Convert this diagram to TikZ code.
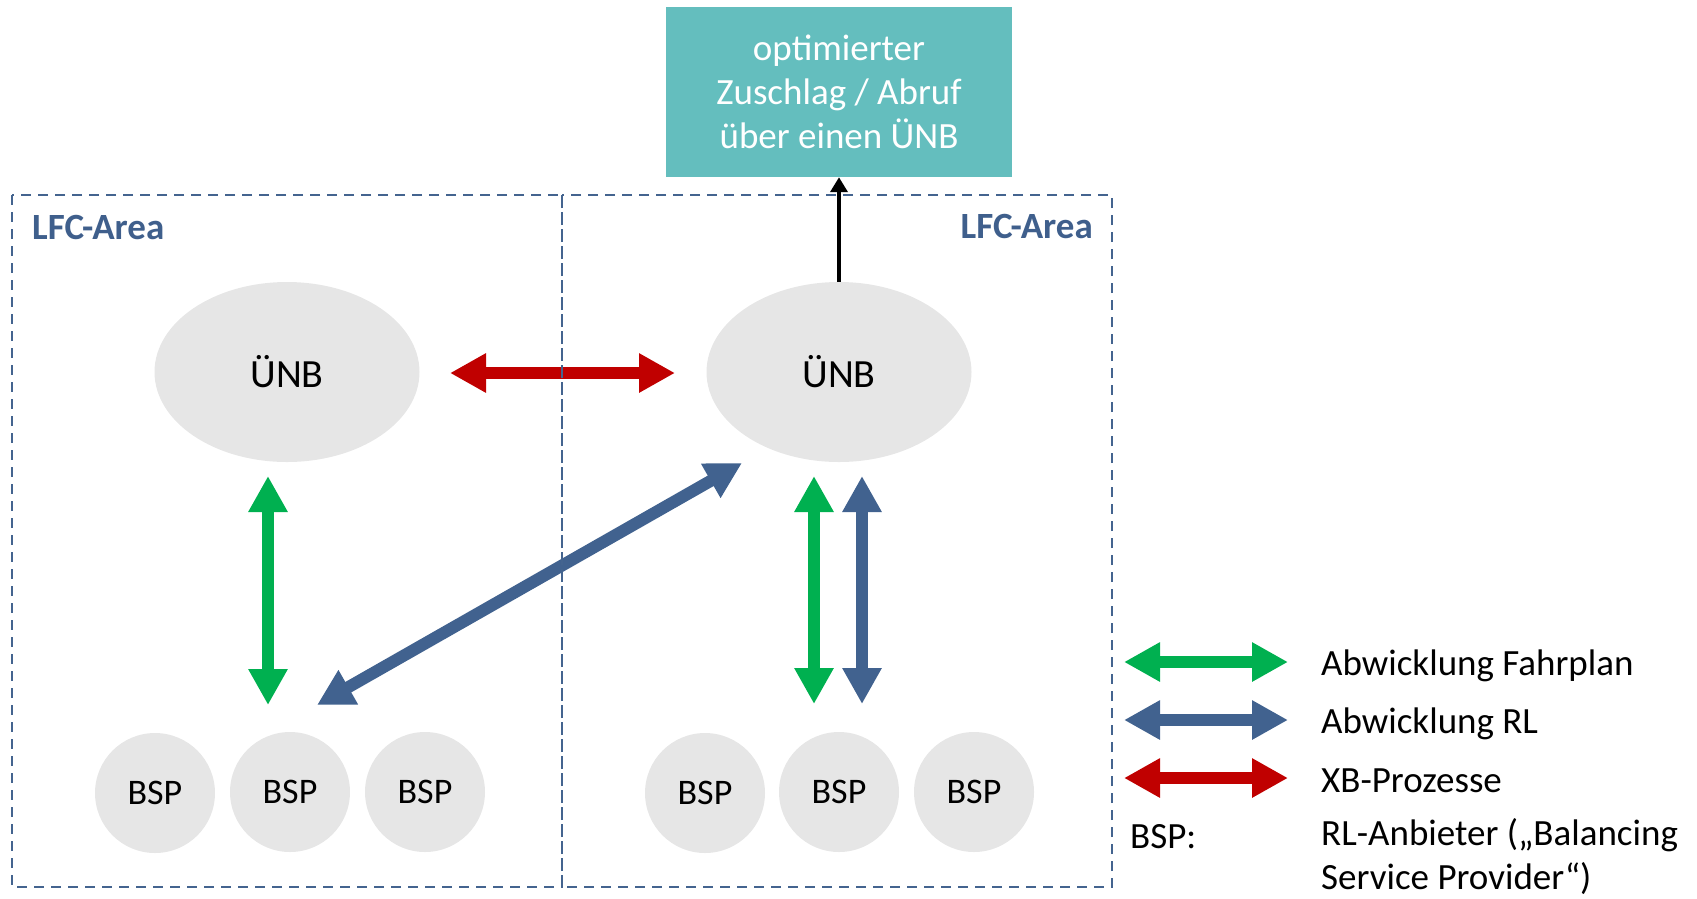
\documentclass[tikz,border=0pt]{standalone}
\usepackage{fontspec}
\setmainfont{Carlito}
\usetikzlibrary{arrows.meta,shapes.geometric}

\definecolor{tealbox}{HTML}{64BEBE}
\definecolor{nodegrey}{HTML}{E6E6E6}
\definecolor{areablue}{HTML}{44648F}
\definecolor{labelblue}{HTML}{3F5F8C}
\definecolor{rlblue}{HTML}{41628F}
\definecolor{fpgreen}{HTML}{00B050}
\definecolor{xbred}{HTML}{C00000}

\begin{document}
\begin{tikzpicture}[x=1pt,y=-1pt,
  topbox/.style={fill=tealbox, text=white, align=center, inner sep=0pt,
    minimum width=346pt, minimum height=170pt,
    font=\fontsize{37}{44}\selectfont},
  unb/.style={ellipse, fill=nodegrey, inner sep=0pt,
    minimum width=265pt, minimum height=180pt,
    font=\fontsize{40}{48}\selectfont},
  bsp/.style={circle, fill=nodegrey, inner sep=0pt, minimum size=120pt,
    font=\fontsize{36}{43}\selectfont},
  area/.style={draw=areablue, line width=2pt, dash pattern=on 10pt off 7pt},
  arealabel/.style={text=labelblue, inner sep=0pt,
    font=\fontsize{37}{44}\selectfont\bfseries},
  legendtext/.style={inner sep=0pt, align=left,
    font=\fontsize{37}{44}\selectfont},
  blockarrow/.style={line width=12pt,
    arrows={Triangle[length=36pt,width=37pt]-Triangle[length=36pt,width=37pt]}},
  fparrow/.style={blockarrow, draw=fpgreen},
  rlarrow/.style={blockarrow, draw=rlblue},
  xbarrow/.style={blockarrow, draw=xbred}
]
\useasboundingbox (0,0) rectangle (1697,898);

% top box and transmission system operators
\node[topbox] (zuschlag) at (839,92) {optimierter\\Zuschlag / Abruf\\über einen ÜNB};
\node[unb] (unbL) at (287,372) {\raisebox{2pt}{ÜNB}};
\node[unb] (unbR) at (839,372) {\raisebox{2pt}{ÜNB}};

% balancing service providers
\node[bsp] (bspL1) at (155,793) {BSP};
\node[bsp] (bspL2) at (290,792) {BSP};
\node[bsp] (bspL3) at (425,792) {BSP};
\node[bsp] (bspR1) at (705,793) {BSP};
\node[bsp] (bspR2) at (839,792) {BSP};
\node[bsp] (bspR3) at (974,792) {BSP};

% arrow end points
\coordinate (xbA) at (450,373);
\coordinate (xbB) at (675,373);
\coordinate (fpLa) at (268,476);
\coordinate (fpLb) at (268,705);
\coordinate (rlA) at (317,705);
\coordinate (rlB) at (742,463);
\coordinate (fpRa) at (814,476);
\coordinate (fpRb) at (814,704);
\coordinate (rlRa) at (862,476);
\coordinate (rlRb) at (862,704);

\draw[xbarrow] (xbA) -- (xbB);
\draw[fparrow] (fpLa) -- (fpLb);
\draw[rlarrow] (rlA) -- (rlB);
\draw[fparrow] (fpRa) -- (fpRb);
\draw[rlarrow] (rlRa) -- (rlRb);
\draw[line width=4pt, -{Triangle[length=15pt,width=17pt]}] (unbR.north) -- (zuschlag.south);

% LFC areas
\draw[area] (12,195) rectangle (562,887);
\draw[area] (562,195) rectangle (1112,887);
\node[arealabel, anchor=base west] (lfcL) at (32,239) {LFC-Area};
\node[arealabel, anchor=base east] (lfcR) at (1093,238) {LFC-Area};

% legend
\coordinate (legGa) at (1124,662);
\coordinate (legGb) at (1288,662);
\coordinate (legBa) at (1124,720);
\coordinate (legBb) at (1288,720);
\coordinate (legRa) at (1124,778);
\coordinate (legRb) at (1288,778);
\draw[fparrow] (legGa) -- (legGb);
\draw[rlarrow] (legBa) -- (legBb);
\draw[xbarrow] (legRa) -- (legRb);
\node[legendtext, anchor=base west] (legG) at (1321,675) {Abwicklung Fahrplan};
\node[legendtext, anchor=base west] (legB) at (1321,733) {Abwicklung RL};
\node[legendtext, anchor=base west] (legR) at (1321,792) {XB-Prozesse};
\node[legendtext, anchor=base west] (legBSP) at (1130,848) {BSP:};
\node[legendtext, anchor=west] (legBSPtext) at (1321,857) {RL-Anbieter („Balancing\\Service Provider“)};
\end{tikzpicture}
\end{document}
